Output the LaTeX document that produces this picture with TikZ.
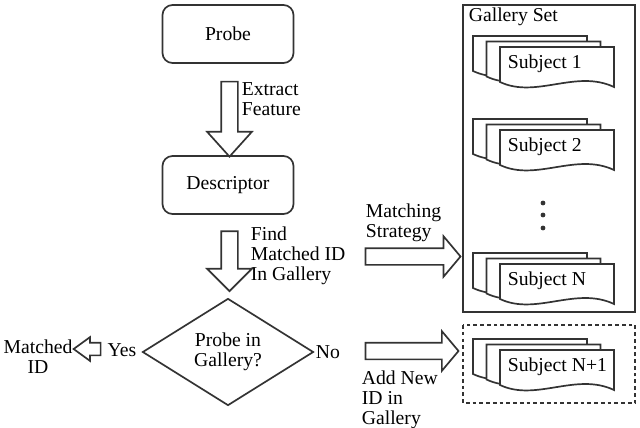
\documentclass[tikz,border=0pt]{standalone}
\usepackage{fontspec}
\setmainfont{Liberation Serif}
\usetikzlibrary{shapes.geometric, shapes.arrows}
\definecolor{ink}{HTML}{333333}

\begin{document}
\begin{tikzpicture}[line width=1.2pt,
        every node/.style={font=\fontsize{14}{14.2}\selectfont, inner sep=0pt},
        stepbox/.style={draw=ink, rounded corners=0.25cm,
            minimum width=3.275cm, minimum height=1.45cm},
        fatarrow/.style={single arrow, draw=ink, fill=white, inner sep=0.1875cm,
            single arrow head indent=0pt},
        pics/page/.style={code={
            \draw[ink, fill=white] (0,0) -- (2.85,0) -- (2.85,-1.0)
              .. controls (1.9,-0.55) and (0.9,-1.3) .. (0,-0.875) -- cycle;}}]
      \useasboundingbox (0,0) rectangle (16,-10.675);
      % left column
      \node[stepbox] (probe) at (5.7,-0.85) {Probe};
      \node[fatarrow, shape border rotate=270, minimum height=1.875cm,
            single arrow head extend=0.35cm, single arrow tip angle=84] (ext) at (5.7375,-2.8625) {};
      \node[anchor=west, align=left] (extlab) at (6.025,-2.475) {Extract\\Feature};
      \node[stepbox] (desc) at (5.7,-4.625) {Descriptor};
      \node[fatarrow, shape border rotate=270, minimum height=1.5cm,
            single arrow head extend=0.35cm, single arrow tip angle=90] (find) at (5.7375,-6.425) {};
      \node[anchor=west, align=left] (findlab) at (6.25,-6.4) {Find\\Matched ID\\In Gallery};
      \node[diamond, draw=ink, minimum width=4.275cm, minimum height=2.675cm, align=center] (query) at (5.7,-8.8) {Probe in\\Gallery?};
      % outcomes
      \node[anchor=center] (yes) at (3.05,-8.75) {Yes};
      \node[fatarrow, shape border rotate=180, inner sep=0.1375cm, minimum height=0.675cm,
            single arrow head extend=0.1375cm, single arrow tip angle=72] (yesarr) at (2.2875,-8.725) {};
      \node[align=center] (matched) at (0.95,-8.925) {Matched\\ID};
      \node (no) at (8.2,-8.8) {No};
      \node[fatarrow, minimum height=2.325cm,
            single arrow head extend=0.2875cm, single arrow tip angle=100] (addarr) at (10.2125,-8.775) {};
      \node[anchor=west, align=left] (addlab) at (9.025,-10.0) {Add New\\ID in\\Gallery};
      \node[fatarrow, minimum height=2.375cm,
            single arrow head extend=0.3cm, single arrow tip angle=100] (matcharr) at (10.2375,-6.4125) {};
      \node[anchor=west, align=left] (matchlab) at (9.125,-5.575) {Matching\\Strategy};
      % gallery
      \draw[ink] (11.575,-0.125) rectangle (15.875,-7.8);
      \node[anchor=west] (gallery) at (11.7,-0.425) {Gallery Set};
      \draw[ink, dash pattern=on 2.6pt off 2.2pt] (11.575,-8.125) rectangle (15.875,-10.075);
      \foreach \y/\lab/\nm in {-1.175/Subject 1/s1, -3.25/Subject 2/s2, -6.6/Subject N/sN, -8.75/Subject N+1/sNew} {
        \pic at (11.825,\y+0.275) {page};
        \pic at (12.1625,\y+0.1375) {page};
        \pic at (12.5,\y) {page};
        \node[anchor=west] (\nm) at (12.675,\y-0.425) {\lab};
      }
      \foreach \y in {-5.075,-5.375,-5.7}
        \fill[ink] (13.575,\y) circle (0.06);
\end{tikzpicture}
\end{document}
